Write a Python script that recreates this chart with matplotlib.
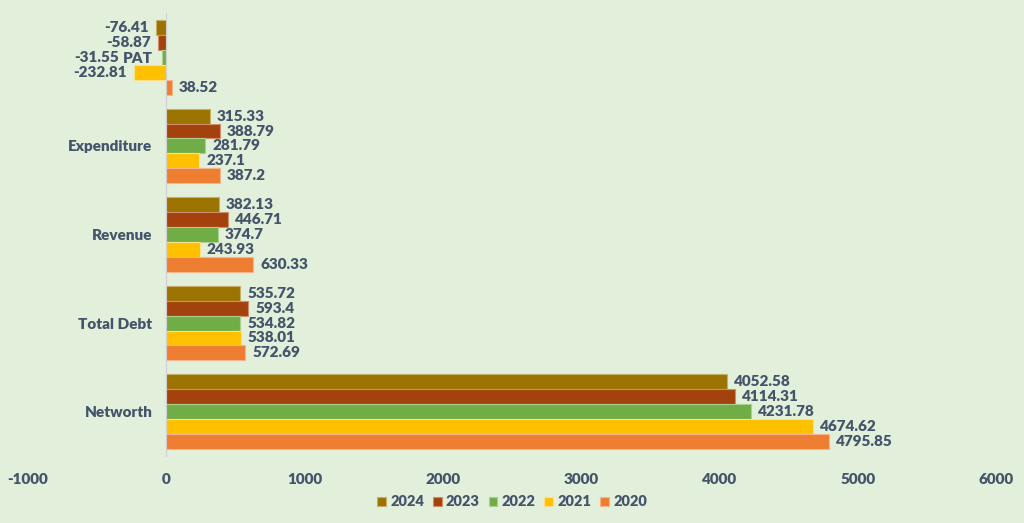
import numpy as np
import matplotlib.pyplot as plt

categories = ['Networth', 'Total Debt', 'Revenue', 'Expenditure', 'PAT']
years = ['2024', '2023', '2022', '2021', '2020']
values = {
    '2024': [4052.58, 535.72, 382.13, 315.33, -76.41],
    '2023': [4114.31, 593.4, 446.71, 388.79, -58.87],
    '2022': [4231.78, 534.82, 374.7, 281.79, -31.55],
    '2021': [4674.62, 538.01, 243.93, 237.1, -232.81],
    '2020': [4795.85, 572.69, 630.33, 387.2, 38.52],
}
colors = {
    '2024': '#9B7300',
    '2023': '#A3420C',
    '2022': '#70AD47',
    '2021': '#FFC000',
    '2020': '#ED7D31',
}
edges = {
    '2024': '#C9AE6A',
    '2023': '#CF8F6A',
    '2022': '#A9D08E',
    '2021': '#FFE08A',
    '2020': '#F6B48A',
}

bg = '#E2EFDA'
txt = '#44546A'
plt.rcParams['font.family'] = ['Lato', 'DejaVu Sans']
plt.rcParams['font.weight'] = 'heavy'
plt.rcParams['axes.unicode_minus'] = False

fig = plt.figure(figsize=(10.24, 5.23), dpi=100, facecolor=bg)
ax = fig.add_axes([28 / 1024, 1 - 456 / 523, 968 / 1024, 443 / 523], facecolor=bg)

y = np.arange(len(categories))
h = 0.168
for i, yr in enumerate(years):
    offs = (2 - i) * h
    vals = values[yr]
    bars = ax.barh(y + offs, vals, height=h, color=colors[yr], edgecolor=edges[yr],
                   linewidth=0.8, label=yr)
    for b, v in zip(bars, vals):
        lab = f'{v:g}'
        if v >= 0:
            ax.annotate(lab, (v, b.get_y() + h / 2), xytext=(5, 0), textcoords='offset points',
                        ha='left', va='center', fontsize=11, color=txt)
        else:
            # the middle bar sits on the category label row, so push its label past it
            dx = -31 if i == 2 else -5
            ax.annotate(lab, (v, b.get_y() + h / 2), xytext=(dx, 0), textcoords='offset points',
                        ha='right', va='center', fontsize=11, color=txt)

ax.set_xlim(-1000, 6000)
ax.set_ylim(-0.5, 4.5)
ax.set_xticks(range(-1000, 6001, 1000))
ax.set_yticks(y)
ax.set_yticklabels(categories)
for s in ['top', 'right', 'bottom']:
    ax.spines[s].set_visible(False)
ax.spines['left'].set_position(('data', 0))
ax.spines['left'].set_color('#D0D0D0')
ax.tick_params(axis='y', length=0, pad=10, labelsize=11, labelcolor=txt)
ax.tick_params(axis='x', length=0, pad=12, labelsize=11, labelcolor=txt)

leg = fig.legend(loc='center', bbox_to_anchor=(0.5, 1 - 502 / 523), ncol=5, frameon=False,
                 fontsize=10.5, handlelength=0.6, handleheight=0.6, columnspacing=0.6,
                 handletextpad=0.3)
for t in leg.get_texts():
    t.set_color(txt)

fig.savefig('out.png', dpi=100, facecolor=bg)
